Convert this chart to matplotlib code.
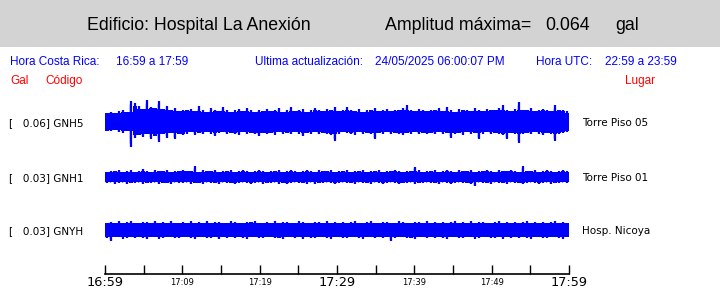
import numpy as np
import matplotlib
matplotlib.use("Agg")
import matplotlib.pyplot as plt
from matplotlib.patches import Rectangle

# ---------------- data ----------------
building = "Hospital La Anexión"
max_amplitude = "0.064"
local_time = "16:59 a 17:59"
utc_time = "22:59 a 23:59"
last_update = "24/05/2025 06:00:07 PM"

codes = ["GNH5", "GNH1", "GNYH"]
peak_gal = ["0.06", "0.03", "0.03"]
places = ["Torre Piso 05", "Torre Piso 01", "Hosp. Nicoya"]

tick_minutes = [0, 5, 10, 15, 20, 25, 30, 35, 40, 45, 50, 55, 60]
tick_labels = ["16:59", "", "17:09", "", "17:19", "", "17:29", "", "17:39", "", "17:49", "", "17:59"]
major_labels = ["16:59", "17:29", "17:59"]

# envelope of each trace (mgal), upper excursion and lower excursion per time bin
t1_top = [22,26,24,28,30,26,54,48,40,34,56,38,36,54,34,42,30,36,28,32,
          30,34,28,40,30,26,36,30,28,38,32,26,30,34,28,36,30,26,32,28,
          34,28,30,36,26,32,38,28,30,34,26,30,36,32,28,34,30,38,28,30,
          38,30,28,34,26,32,30,36,28,30,34,28,32,30,36,43,30,28,34,30,
          28,32,30,36,28,38,30,26,34,30,32,28,36,30,28,34,30,32,36,43,
          30,28,34,51,30,32,36,28,30,34,30,28,43,32,30,28]
t1_bot = [22,24,20,26,28,24,64,40,34,38,30,44,36,52,30,40,28,44,30,34,
          30,26,34,28,32,26,30,36,28,26,32,28,30,34,26,30,28,32,36,28,
          30,28,34,26,30,28,32,26,30,36,28,30,26,32,28,30,34,49,30,26,
          28,30,34,26,30,28,32,44,28,30,26,32,28,30,34,28,30,26,32,28,
          30,28,32,26,30,28,41,30,28,34,26,30,28,44,30,26,32,28,30,34,
          44,28,30,54,30,28,32,26,30,34,28,30,49,30,28,26]
t2_top = [14,16,15,18,14,16,17,14,16,20,15,14,18,16,15,17,14,16,15,18,
          16,15,28,14,17,16,15,18,14,16,15,17,14,16,18,15,14,16,17,15,
          14,16,15,18,14,16,17,15,14,16,18,15,14,17,16,15,18,14,16,15,
          17,14,16,15,18,14,16,15,17,14,16,15,18,16,14,16,15,26,17,14,
          16,15,18,14,16,17,15,14,18,16,15,17,14,16,15,18,16,14,17,15,
          16,18,15,14,28,16,15,17,14,16,18,15,14,16,17,15]
t2_bot = [15,14,18,16,14,17,15,16,14,18,15,16,14,17,16,15,18,14,16,15,
          14,17,15,16,18,14,16,15,17,14,16,15,18,16,14,15,17,16,14,18,
          16,15,14,17,16,18,15,14,16,15,17,14,18,16,15,14,16,17,15,14,
          16,15,18,14,16,15,17,14,16,18,15,14,16,17,15,16,14,18,15,16,
          14,16,15,17,14,16,18,15,14,16,15,17,23,14,16,15,18,14,16,15,
          17,14,16,15,18,16,14,15,17,16,14,18,15,16,14,16]
t3_top = [18,20,19,22,18,20,24,19,18,21,20,18,23,19,20,18,22,19,18,20,
          19,22,18,20,19,24,18,20,21,19,18,22,20,19,18,21,20,23,19,18,
          20,19,22,18,20,21,19,18,23,20,19,18,21,20,19,22,18,20,19,21,
          18,20,22,19,18,20,24,19,18,21,20,19,18,22,20,19,18,21,20,19,
          22,19,20,18,21,19,20,24,18,20,19,22,18,20,21,19,18,20,22,19,
          20,18,21,19,20,22,18,20,19,21,18,20,22,19,20,18]
t3_bot = [20,28,19,18,22,20,19,21,18,20,24,19,18,22,20,19,18,21,20,19,
          18,20,22,19,18,21,20,19,23,18,20,19,21,18,20,22,19,18,20,21,
          19,18,21,20,22,19,18,20,19,23,18,20,21,19,18,20,22,19,18,20,
          21,19,18,20,22,19,18,20,19,21,18,28,20,19,18,21,20,22,19,18,
          20,19,21,18,20,22,19,18,20,21,19,18,22,20,19,18,21,20,19,22,
          18,20,19,21,18,20,22,19,18,20,21,19,18,20,22,19]

tops = [t1_top, t2_top, t3_top]
bots = [t1_bot, t2_bot, t3_bot]

# ---------------- layout ----------------
W, H = 720, 288
fig = plt.figure(figsize=(W / 100, H / 100), dpi=100)
fig.patch.set_facecolor("white")

def fx(px):
    return px / W

def fy(py):
    return 1 - py / H

# gray header band
fig.patches.append(Rectangle((0, fy(47)), 1, 47 / H, transform=fig.transFigure,
                             facecolor="#d3d3d3", edgecolor="none", zorder=0))

head_font = dict(family="Liberation Sans", fontsize=12.8, color="black", va="baseline")
fig.text(fx(87), fy(30), "Edificio: " + building, **head_font)
fig.text(fx(385), fy(30), "Amplitud máxima=", **head_font)
fig.text(fx(545), fy(30), max_amplitude, **head_font)
fig.text(fx(615), fy(30), "gal", **head_font)

row_font = dict(family="Liberation Sans", fontsize=8.5, va="baseline")
fig.text(fx(10.5), fy(65), "Hora Costa Rica:", color="blue", **row_font)
fig.text(fx(116), fy(65), local_time, color="blue", **row_font)
fig.text(fx(255), fy(65), "Ultima actualización:", color="blue", **row_font)
fig.text(fx(375), fy(65), last_update, color="blue", **row_font)
fig.text(fx(536), fy(65), "Hora UTC:", color="blue", **row_font)
fig.text(fx(605), fy(65), utc_time, color="blue", **row_font)
fig.text(fx(10.5), fy(84), "Gal", color="red", **row_font)
fig.text(fx(45), fy(84), "Código", color="red", **row_font)
fig.text(fx(625.5), fy(84), "Lugar", color="red", **row_font)

# trace axes: x = minutes, y = pixels from top of figure
ax_left, ax_right, ax_top, ax_bot = 105, 569, 90, 274
ax = fig.add_axes([fx(ax_left), fy(ax_bot), (ax_right - ax_left) / W, (ax_bot - ax_top) / H])
ax.set_xlim(0, 60)
ax.set_ylim(ax_bot, ax_top)
ax.set_facecolor("none")

centers = [122, 177, 230]
px_per_mgal = 0.39
for top, bot, c in zip(tops, bots, centers):
    top = np.asarray(top, float)
    bot = np.asarray(bot, float)
    n = len(top)
    edges = np.linspace(0, 60, n + 1)
    mids = 0.5 * (edges[:-1] + edges[1:])
    # solid core: lowest excursion among neighbouring bins
    core_top = np.minimum(np.minimum(top, np.roll(top, 1)), np.roll(top, -1))
    core_bot = np.minimum(np.minimum(bot, np.roll(bot, 1)), np.roll(bot, -1))
    ax.stairs(c - core_top * px_per_mgal, edges, baseline=c + core_bot * px_per_mgal,
              fill=True, color="blue", linewidth=0)
    # thin spikes reaching each bin's envelope
    ax.vlines(mids, c + bot * px_per_mgal, c - top * px_per_mgal,
              color="blue", linewidth=1.6, capstyle="butt")
    ax.vlines(edges[:-1] + 0.12, c + bot * px_per_mgal * 0.85, c - top * px_per_mgal * 0.85,
              color="blue", linewidth=1.0, capstyle="butt")

for sp in ["top", "left", "right"]:
    ax.spines[sp].set_visible(False)
ax.spines["bottom"].set_linewidth(1.2)
ax.set_yticks([])
ax.set_xticks(tick_minutes, labels=[""] * len(tick_minutes))
ax.tick_params(axis="x", direction="in", length=6.5, width=1.0, pad=0)

for m, lab in zip(tick_minutes, tick_labels):
    if not lab:
        continue
    if lab in major_labels:
        ax.text(m, 286, lab, ha="center", va="baseline", fontsize=9.3,
                family="DejaVu Sans", clip_on=False)
    else:
        ax.text(m, 285, lab, ha="center", va="baseline", fontsize=6,
                family="DejaVu Sans", clip_on=False)

lab_font = dict(family="DejaVu Sans", fontsize=7.5, color="black", va="baseline")
for code, pk, place, c in zip(codes, peak_gal, places, centers):
    fig.text(fx(9), fy(c + 4), "[   " + pk + "] " + code, **lab_font)
    fig.text(fx(582), fy(c + 4), place, **lab_font)

fig.savefig("out.png", dpi=100)
